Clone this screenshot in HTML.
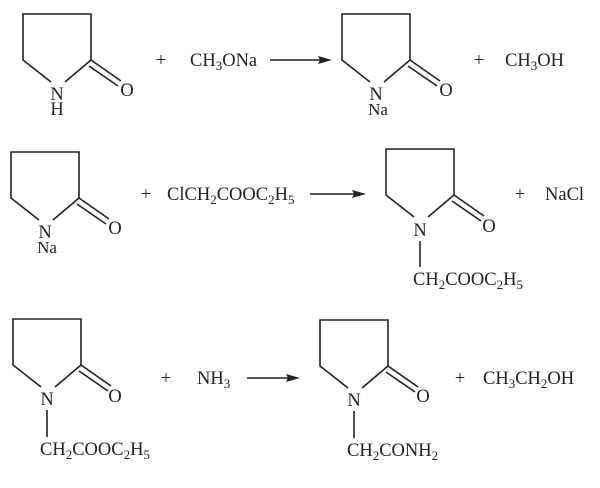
<!DOCTYPE html>
<html><head><style>
html,body{margin:0;padding:0;background:#fff;}
svg{display:block;}
text{font-family:"Liberation Serif",serif;fill:#222;}
</style></head><body>
<svg width="600" height="488" viewBox="0 0 600 488" xmlns="http://www.w3.org/2000/svg">
<defs>
<g id="ring" stroke="#222" stroke-width="1.6" fill="none">
<polyline points="28,68 0,46 0,0 68,0 68,46 42,68"/>
<line x1="68" y1="46" x2="98" y2="67"/>
<line x1="66" y1="52" x2="95" y2="72"/>
</g>
</defs>
<g font-size="18.5">
<!-- Row 1 -->
<use href="#ring" x="23" y="14"/>
<text x="57" y="100" text-anchor="middle">N</text>
<text x="57" y="115" text-anchor="middle">H</text>
<text x="127" y="96" text-anchor="middle">O</text>
<text x="161" y="66" text-anchor="middle">+</text>
<text x="190" y="66">CH<tspan font-size="13" dy="4">3</tspan><tspan dy="-4">ONa</tspan></text>
<line x1="270" y1="60" x2="322" y2="60" stroke="#222" stroke-width="1.6"/>
<polygon points="332,60 318,56 320,60 318,64" fill="#222"/>
<use href="#ring" x="342" y="14"/>
<text x="376" y="100" text-anchor="middle">N</text>
<text x="378" y="115" text-anchor="middle" font-size="17">Na</text>
<text x="446" y="96" text-anchor="middle">O</text>
<text x="479" y="66" text-anchor="middle">+</text>
<text x="505" y="66">CH<tspan font-size="13" dy="4">3</tspan><tspan dy="-4">OH</tspan></text>
<!-- Row 2 -->
<use href="#ring" x="11" y="152"/>
<text x="45" y="238" text-anchor="middle">N</text>
<text x="47" y="253" text-anchor="middle" font-size="17">Na</text>
<text x="115" y="234" text-anchor="middle">O</text>
<text x="146" y="200" text-anchor="middle">+</text>
<text x="167" y="200">ClCH<tspan font-size="13" dy="4">2</tspan><tspan dy="-4">COOC</tspan><tspan font-size="13" dy="4">2</tspan><tspan dy="-4">H</tspan><tspan font-size="13" dy="4">5</tspan></text>
<line x1="310" y1="194" x2="356" y2="194" stroke="#222" stroke-width="1.6"/>
<polygon points="366,194 352,190 354,194 352,198" fill="#222"/>
<use href="#ring" x="386" y="149"/>
<text x="420" y="236" text-anchor="middle">N</text>
<text x="489" y="232" text-anchor="middle">O</text>
<line x1="420" y1="241" x2="420" y2="267" stroke="#222" stroke-width="1.6"/>
<text x="413" y="285">CH<tspan font-size="13" dy="4">2</tspan><tspan dy="-4">COOC</tspan><tspan font-size="13" dy="4">2</tspan><tspan dy="-4">H</tspan><tspan font-size="13" dy="4">5</tspan></text>
<text x="520" y="200" text-anchor="middle">+</text>
<text x="545" y="200">NaCl</text>
<!-- Row 3 -->
<use href="#ring" x="13" y="319"/>
<text x="47" y="405" text-anchor="middle">N</text>
<text x="115" y="402" text-anchor="middle">O</text>
<line x1="47" y1="410" x2="47" y2="437" stroke="#222" stroke-width="1.6"/>
<text x="40" y="455">CH<tspan font-size="13" dy="4">2</tspan><tspan dy="-4">COOC</tspan><tspan font-size="13" dy="4">2</tspan><tspan dy="-4">H</tspan><tspan font-size="13" dy="4">5</tspan></text>
<text x="166" y="384" text-anchor="middle">+</text>
<text x="197" y="384">NH<tspan font-size="13" dy="4">3</tspan></text>
<line x1="247" y1="378" x2="290" y2="378" stroke="#222" stroke-width="1.6"/>
<polygon points="300,378 286,374 288,378 286,382" fill="#222"/>
<use href="#ring" x="320" y="320"/>
<text x="354" y="406" text-anchor="middle">N</text>
<text x="423" y="402" text-anchor="middle">O</text>
<line x1="354" y1="411" x2="354" y2="438" stroke="#222" stroke-width="1.6"/>
<text x="347" y="456">CH<tspan font-size="13" dy="4">2</tspan><tspan dy="-4">CONH</tspan><tspan font-size="13" dy="4">2</tspan></text>
<text x="460" y="384" text-anchor="middle">+</text>
<text x="483" y="384">CH<tspan font-size="13" dy="4">3</tspan><tspan dy="-4">CH</tspan><tspan font-size="13" dy="4">2</tspan><tspan dy="-4">OH</tspan></text>
</g>
</svg>
</body></html>
